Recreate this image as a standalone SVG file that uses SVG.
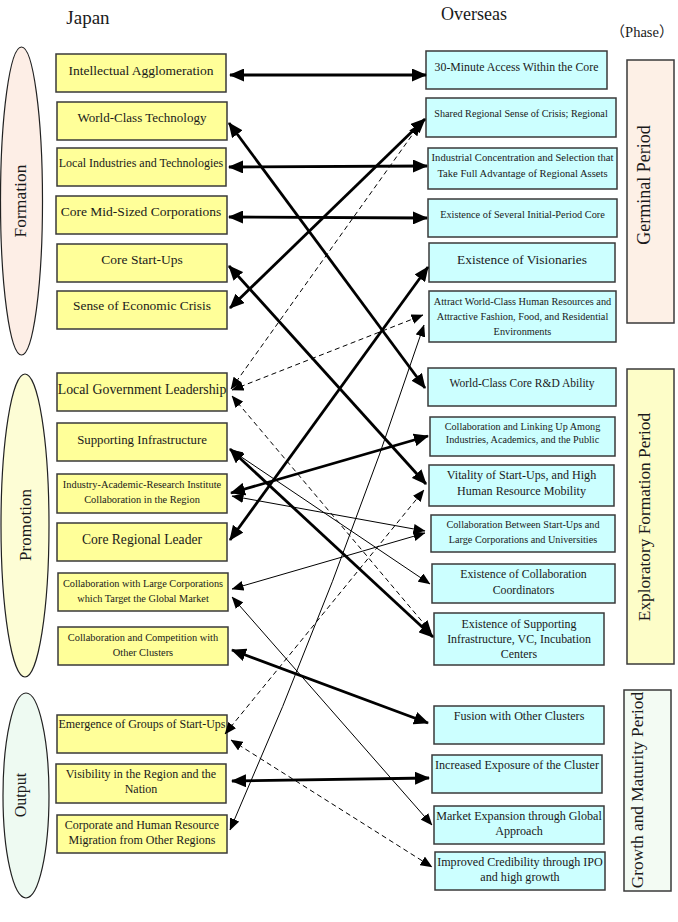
<svg xmlns="http://www.w3.org/2000/svg" width="678" height="922" viewBox="0 0 678 922">
<style>
text{font-family:"Liberation Serif","DejaVu Serif",serif;fill:#1a1a1a;text-anchor:middle}
.cjk{font-family:"Liberation Serif","Noto Sans CJK JP",serif}
.jp{fill:#ffff99;stroke:#3a3a3a;stroke-width:1.5}
.ov{fill:#ccffff;stroke:#3a3a3a;stroke-width:1.5}
.el{stroke:#222;stroke-width:1.2}
.ph{stroke:#3a3a3a;stroke-width:1.5}
.rt{dominant-baseline:central}
.thick{fill:none;stroke:#000;stroke-width:2.8;marker-start:url(#ah);marker-end:url(#ah)}
.thin{fill:none;stroke:#000;stroke-width:1;marker-start:url(#at);marker-end:url(#at)}
.dash{fill:none;stroke:#000;stroke-width:1;stroke-dasharray:5 3.5;marker-start:url(#at);marker-end:url(#at)}
</style>
<defs>
<marker id="ah" markerUnits="userSpaceOnUse" viewBox="0 0 15 13" markerWidth="15" markerHeight="13" refX="14" refY="6.5" orient="auto-start-reverse"><path d="M0,0 L15,6.5 L0,13 z" fill="#000"/></marker>
<marker id="at" markerUnits="userSpaceOnUse" viewBox="0 0 12 10" markerWidth="12" markerHeight="10" refX="11.5" refY="5" orient="auto-start-reverse"><path d="M0,0 L12,5 L0,10 z" fill="#000"/></marker>
</defs>
<rect width="678" height="922" fill="#fff"/>

<g id="headers">
<text x="88" y="24" font-size="19">Japan</text>
<text x="474" y="20" font-size="18">Overseas</text>
<text class="cjk" x="642" y="37" font-size="14.5">（Phase）</text>
</g>

<g id="stage-formation"><ellipse class="el" cx="21.5" cy="201" rx="21" ry="154" fill="#fdeee6"/><text class="rt" transform="translate(20,201) rotate(-90)" font-size="17.5">Formation</text></g>
<g id="stage-promotion"><ellipse class="el" cx="25" cy="525.5" rx="24" ry="151.5" fill="#fdfdd5"/><text class="rt" transform="translate(25,525) rotate(-90)" font-size="17">Promotion</text></g>
<g id="stage-output"><ellipse class="el" cx="26" cy="795.5" rx="23" ry="102.5" fill="#eefaf2"/><text class="rt" transform="translate(20,795) rotate(-90)" font-size="16">Output</text></g>

<g id="phase-germinal"><rect class="ph" x="627" y="60" width="47" height="263" fill="#fdf0e6"/><text class="rt" transform="translate(644,185) rotate(-90)" font-size="18">Germinal Period</text></g>
<g id="phase-exploratory"><rect class="ph" x="627" y="369" width="47" height="295" fill="#fdfdc8"/><text class="rt" transform="translate(644,517) rotate(-90)" font-size="17.3">Exploratory Formation Period</text></g>
<g id="phase-growth"><rect class="ph" x="624" y="690" width="47" height="201" fill="#f3fbf3"/><text class="rt" transform="translate(637,790) rotate(-90)" font-size="17.3">Growth and Maturity Period</text></g>

<g id="j1"><rect class="jp" x="56" y="54" width="170" height="38"/><text x="141" y="75" font-size="13.5">Intellectual Agglomeration</text></g>
<g id="j2"><rect class="jp" x="57" y="102" width="170" height="38"/><text x="142" y="122" font-size="13">World-Class Technology</text></g>
<g id="j3"><rect class="jp" x="57" y="148" width="169" height="38"/><text x="141" y="167" font-size="12">Local Industries and Technologies</text></g>
<g id="j4"><rect class="jp" x="56" y="196" width="171" height="38"/><text x="141" y="216" font-size="13.5">Core Mid-Sized Corporations</text></g>
<g id="j5"><rect class="jp" x="57" y="244" width="170" height="38"/><text x="142" y="264" font-size="13.5">Core Start-Ups</text></g>
<g id="j6"><rect class="jp" x="57" y="291" width="170" height="38"/><text x="142" y="310" font-size="13.4">Sense of Economic Crisis</text></g>
<g id="j7"><rect class="jp" x="57" y="373" width="170" height="38"/><text x="142" y="394" font-size="13.8">Local Government Leadership</text></g>
<g id="j8"><rect class="jp" x="57" y="423" width="170" height="38"/><text x="142" y="444" font-size="12.8">Supporting Infrastructure</text></g>
<g id="j9"><rect class="jp" x="57" y="474" width="170" height="39"/><text x="142" y="488" font-size="10.4">Industry-Academic-Research Institute</text><text x="142" y="503" font-size="10.4">Collaboration in the Region</text></g>
<g id="j10"><rect class="jp" x="57" y="523" width="170" height="38"/><text x="142" y="544" font-size="13.6">Core Regional Leader</text></g>
<g id="j11"><rect class="jp" x="58" y="573" width="170" height="38"/><text x="143" y="587" font-size="10.3">Collaboration with Large Corporations</text><text x="143" y="602" font-size="10.3">which Target the Global Market</text></g>
<g id="j12"><rect class="jp" x="58" y="627" width="170" height="38"/><text x="143" y="641" font-size="10.4">Collaboration and Competition with</text><text x="143" y="656" font-size="10.4">Other Clusters</text></g>
<g id="j13"><rect class="jp" x="57" y="715" width="170" height="38"/><text x="142" y="728" font-size="12">Emergence of Groups of Start-Ups</text></g>
<g id="j14"><rect class="jp" x="56" y="764" width="170" height="39"/><text x="141" y="778" font-size="12">Visibility in the Region and the</text><text x="141" y="793" font-size="12">Nation</text></g>
<g id="j15"><rect class="jp" x="57" y="815" width="170" height="38"/><text x="142" y="829" font-size="12">Corporate and Human Resource</text><text x="142" y="844" font-size="12">Migration from Other Regions</text></g>

<g id="o1"><rect class="ov" x="426" y="51" width="181" height="38"/><text x="516.5" y="71" font-size="11.8">30-Minute Access Within the Core</text></g>
<g id="o2"><rect class="ov" x="426" y="98" width="190" height="39"/><text x="521" y="117" font-size="10.2">Shared Regional Sense of Crisis; Regional</text></g>
<g id="o3"><rect class="ov" x="428" y="148" width="189" height="41"/><text x="522.5" y="161" font-size="10.6">Industrial Concentration and Selection that</text><text x="522.5" y="176.5" font-size="10.6">Take Full Advantage of Regional Assets</text></g>
<g id="o4"><rect class="ov" x="428" y="199" width="189" height="38"/><text x="522.5" y="217.5" font-size="10.3">Existence of Several Initial-Period Core</text></g>
<g id="o5"><rect class="ov" x="429" y="243" width="186" height="39"/><text x="522" y="264" font-size="13.4">Existence of Visionaries</text></g>
<g id="o6"><rect class="ov" x="429" y="291" width="187" height="51"/><text x="522.5" y="304.5" font-size="10.3">Attract World-Class Human Resources and</text><text x="522.5" y="319.5" font-size="10.3">Attractive Fashion, Food, and Residential</text><text x="522.5" y="334.5" font-size="10.3">Environments</text></g>
<g id="o7"><rect class="ov" x="428" y="368" width="188" height="38"/><text x="522" y="387" font-size="11.5">World-Class Core R&amp;D Ability</text></g>
<g id="o8"><rect class="ov" x="430" y="417" width="185" height="39"/><text x="522.5" y="429.5" font-size="10.2">Collaboration and Linking Up Among</text><text x="522.5" y="443" font-size="10.2">Industries, Academics, and the Public</text></g>
<g id="o9"><rect class="ov" x="429" y="465" width="185" height="41"/><text x="521.5" y="478.5" font-size="12.1">Vitality of Start-Ups, and High</text><text x="521.5" y="494.5" font-size="12.1">Human Resource Mobility</text></g>
<g id="o10"><rect class="ov" x="431" y="515" width="184" height="37"/><text x="523" y="527.5" font-size="10.2">Collaboration Between Start-Ups and</text><text x="523" y="542.5" font-size="10.2">Large Corporations and Universities</text></g>
<g id="o11"><rect class="ov" x="432" y="564" width="183" height="39"/><text x="523.5" y="577.5" font-size="11.8">Existence of Collaboration</text><text x="523.5" y="593.5" font-size="11.8">Coordinators</text></g>
<g id="o12"><rect class="ov" x="434" y="613" width="170" height="52"/><text x="519" y="627.5" font-size="11.9">Existence of Supporting</text><text x="519" y="642.5" font-size="11.9">Infrastructure, VC, Incubation</text><text x="519" y="657.5" font-size="11.9">Centers</text></g>
<g id="o13"><rect class="ov" x="434" y="706" width="170" height="38"/><text x="519" y="720" font-size="12.1">Fusion with Other Clusters</text></g>
<g id="o14"><rect class="ov" x="432" y="755" width="170" height="38"/><text x="517" y="769" font-size="12.1">Increased Exposure of the Cluster</text></g>
<g id="o15"><rect class="ov" x="434" y="806" width="170" height="38"/><text x="519" y="820" font-size="12.1">Market Expansion through Global</text><text x="519" y="835" font-size="12.1">Approach</text></g>
<g id="o16"><rect class="ov" x="435" y="852" width="170" height="38"/><text x="520" y="866" font-size="12.1">Improved Credibility through IPO</text><text x="520" y="881" font-size="12.1">and high growth</text></g>

<g id="connectors">
<path class="dash" d="M231,389 L420,124"/>
<path class="dash" d="M232,390 L423,315"/>
<path class="dash" d="M232,396 L431,632"/>
<path class="dash" d="M225,734 L424,490"/>
<path class="dash" d="M231,740 L432,867"/>
<path class="thin" d="M230,830 Q338,585 424,325"/>
<path class="thin" d="M232,589 L425,533"/>
<path class="thin" d="M232,496 L425,531"/>
<path class="thin" d="M231,450 L430,584"/>
<path class="thin" d="M232,597 L432,825"/>
<path class="thick" d="M230,75 L426,75"/>
<path class="thick" d="M229,123 L425,388"/>
<path class="thick" d="M229,167 L427,166"/>
<path class="thick" d="M229,217 L427,218"/>
<path class="thick" d="M229,266 L426,484"/>
<path class="thick" d="M230,308 L425,119"/>
<path class="thick" d="M230,540 L428,267"/>
<path class="thick" d="M231,493 L428,436"/>
<path class="thick" d="M230,449 L433,637"/>
<path class="thick" d="M232,650 L428,723"/>
<path class="thick" d="M232,781 L429,778"/>
</g>
</svg>
